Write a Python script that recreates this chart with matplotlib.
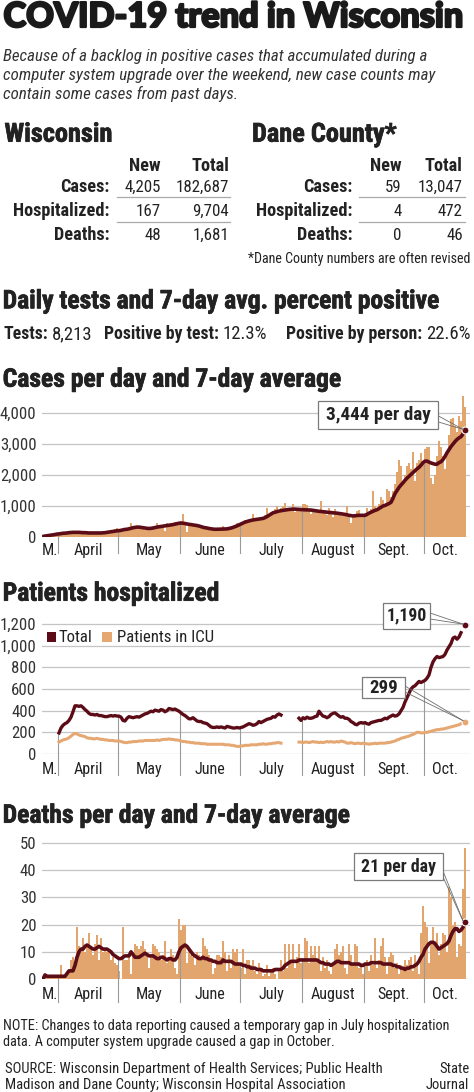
import numpy as np
import pandas as pd
import matplotlib
matplotlib.use("Agg")
import matplotlib.pyplot as plt
from matplotlib import font_manager as fm
from matplotlib.patches import Rectangle
import matplotlib.patheffects as pe

# ---------------- DATA ----------------
START, END = "2020-03-24", "2020-10-21"
HOSP_START = "2020-04-01"
MONTH_LABELS = ["M.", "April", "May", "June", "July", "August", "Sept.", "Oct."]

CASES_TICKS = [0, 1000, 2000, 3000, 4000]
CASES_TICK_LABELS = ["0", "1,000", "2,000", "3,000", "4,000"]
HOSP_TICKS = [0, 200, 400, 600, 800, 1000, 1200]
HOSP_TICK_LABELS = ["0", "200", "400", "600", "800", "1,000", "1,200"]
DEATH_TICKS = [0, 10, 20, 30, 40, 50]
DEATH_TICK_LABELS = ["0", "10", "20", "30", "40", "50"]

CASES_DAILY = [
    20, 40, 50, 60, 70, 80, 90, 110, 100, 120,
    130, 140, 110, 150, 160, 130, 170, 150, 160, 120,
    140, 150, 110, 130, 140, 120, 150, 130, 120, 140,
    150, 160, 130, 180, 190, 170, 250, 300, 180, 250,
    240, 230, 280, 300, 440, 330, 250, 350, 290, 330,
    310, 240, 260, 320, 290, 300, 350, 450, 300, 380,
    400, 200, 450, 420, 380, 460, 500, 420, 480, 520,
    730, 400, 150, 380, 450, 420, 380, 360, 330, 300,
    300, 280, 310, 260, 250, 240, 260, 280, 230, 250,
    350, 260, 240, 310, 330, 360, 380, 450, 420, 500,
    480, 550, 500, 520, 560, 750, 520, 600, 580, 620,
    550, 700, 950, 720, 800, 830, 900, 1000, 780, 930,
    1000, 1100, 850, 900, 950, 1050, 800, 880, 900, 850,
    1050, 1060, 1020, 900, 750, 850, 880, 800, 780, 1150,
    830, 800, 700, 950, 780, 650, 900, 720, 760, 800,
    680, 700, 1000, 750, 450, 650, 700, 850, 860, 700,
    740, 680, 950, 820, 900, 1500, 1000, 900, 1050, 1300,
    1200, 1000, 1550, 1500, 1300, 1500, 1700, 2100, 2500, 2300,
    1700, 2000, 2300, 2400, 2200, 2750, 1800, 2400, 2500, 2700,
    2400, 2850, 2900, 2900, 1900, 1700, 2000, 2600, 3100, 2900,
    2600, 2200, 2700, 3300, 3800, 3850, 3600, 3400, 3900, 3750,
    4550, 4205,
]
CASES_AVG = [
    20, 30, 40, 50, 60, 70, 80, 95, 100, 110,
    120, 125, 130, 140, 145, 150, 150, 150, 150, 145,
    140, 140, 135, 130, 130, 130, 128, 130, 130, 130,
    135, 140, 150, 160, 170, 180, 190, 200, 205, 215,
    230, 245, 250, 265, 280, 300, 310, 320, 320, 310,
    300, 290, 280, 275, 280, 290, 305, 320, 330, 340,
    350, 360, 370, 380, 390, 400, 415, 430, 445, 450,
    445, 435, 420, 410, 400, 390, 380, 370, 355, 335,
    315, 300, 290, 275, 265, 255, 250, 250, 252, 255,
    258, 260, 262, 275, 290, 310, 335, 360, 390, 420,
    450, 480, 500, 520, 535, 550, 560, 570, 580, 590,
    600, 625, 660, 700, 740, 780, 800, 820, 835, 850,
    860, 870, 880, 890, 895, 900, 900, 895, 890, 885,
    880, 878, 875, 872, 870, 860, 850, 840, 830, 825,
    815, 810, 800, 795, 790, 780, 775, 770, 760, 750,
    740, 730, 715, 700, 690, 680, 685, 695, 700, 700,
    700, 700, 730, 770, 800, 830, 860, 880, 920, 960,
    1000, 1020, 1050, 1080, 1120, 1250, 1400, 1500, 1600, 1680,
    1750, 1830, 1900, 1960, 2020, 2080, 2140, 2200, 2250, 2320,
    2400, 2450, 2450, 2420, 2390, 2370, 2350, 2350, 2400, 2430,
    2500, 2600, 2720, 2820, 2920, 3000, 3080, 3150, 3200, 3240,
    3330, 3444,
]
# from April 1; None = no data reported
HOSP_TOTAL = [
    195, 240, 265, 280, 290, 310, 340, 390, 445, 445,
    440, 445, 430, 410, 395, 375, 365, 365, 360, 365,
    355, 355, 350, 345, 345, 350, 355, 350, 355, 350,
    350, 340, 310, 305, 330, 345, 340, 335, 340, 345,
    340, 350, 360, 370, 375, 385, 395, 390, 405, 400,
    395, 410, 405, 390, 400, 420, 415, 410, 415, 405,
    395, 380, 365, 355, 340, 325, 325, 335, 320, 305,
    300, 300, 290, 285, 280, 265, 250, 245, 245, 250,
    245, 250, 245, 240, 255, 250, 245, 240, 240, 245,
    240, 245, 250, 260, 270, 280, 275, 265, 270, 280,
    300, 290, 300, 310, 320, 325, 330, 345, 340, 360,
    370, 360,
    None, None, None, None, None, None, None, None,
    330, 310, 335, 325, 340, 330, 330, 335, 345, 350,
    395, 370, 350, 345, 335, 345, 365, 375, 380, 365,
    350, 340, 345, 330, 330, 320, 300, 290, 275, 270,
    285, 290, 285, 290, 280, 275, 290, 295, 300, 305,
    310, 310, 320, 330, 325, 340, 350, 360, 350, 355,
    370, 400, 430, 480, 520, 560, 600, 620, 630, 650,
    670, 660, 670, 680, 700, 730, 800, 850, 880, 900,
    890, 895, 900, 920, 960, 990, 1020, 1070, 1080, 1060,
    1080, 1120, None, 1190,
]
HOSP_ICU = [
    110, 120, 130, 135, 140, 150, 165, 180, 190, 185,
    175, 170, 165, 160, 150, 145, 145, 140, 140, 145,
    140, 135, 135, 130, 130, 125, 125, 125, 120, 120,
    120, 115, 110, 105, 105, 110, 110, 115, 115, 115,
    120, 120, 120, 125, 125, 125, 125, 125, 125, 130,
    125, 130, 135, 135, 135, 140, 135, 135, 130, 130,
    125, 120, 115, 115, 110, 110, 105, 105, 100, 100,
    100, 95, 95, 95, 90, 90, 90, 90, 90, 90,
    90, 90, 90, 85, 85, 85, 80, 80, 75, 70,
    70, 75, 75, 80, 80, 80, 85, 85, 85, 85,
    90, 90, 95, 90, 90, 95, 95, 100, 100, 105,
    105, 100,
    None, None, None, None, None, None, None, None,
    110, 110, 105, 110, 110, 105, 110, 115, 110, 110,
    105, 110, 105, 110, 115, 110, 115, 110, 110, 115,
    110, 120, 115, 110, 100, 100, 105, 100, 95, 100,
    100, 95, 100, 95, 95, 90, 95, 95, 100, 95,
    100, 100, 100, 100, 105, 105, 110, 115, 120, 130,
    135, 145, 150, 155, 160, 165, 175, 180, 190, 200,
    200, 195, 195, 200, 200, 205, 210, 215, 220, 225,
    225, 230, 230, 235, 240, 245, 250, 255, 260, 265,
    270, 280, None, 299,
]
DEATHS_DAILY = [
    0, 2, 1, 1, 1, 1, 1, 1, 1, 5,
    1, 2, 3, 3, 7, 8, 6, 19, 12, 10,
    15, 10, 13, 17, 12, 9, 13, 16, 7, 15,
    10, 11, 10, 10, 7, 8, 6, 5, 3, 0,
    19, 7, 7, 8, 2, 8, 13, 12, 11, 12,
    14, 11, 9, 4, 9, 13, 12, 11, 10, 7,
    9, 14, 6, 8, 11, 9, 4, 2, 22, 18,
    20, 20, 6, 11, 9, 8, 5, 10, 9, 8,
    15, 12, 11, 9, 7, 2, 4, 9, 9, 8,
    14, 10, 3, 9, 4, 11, 10, 11, 5, 4,
    11, 2, 7, 7, 5, 7, 3, 2, 6, 3,
    1, 2, 5, 1, 3, 4, 2, 0, 3, 7,
    3, 13, 4, 13, 6, 13, 4, 8, 13, 6,
    7, 15, 14, 6, 12, 9, 12, 7, 12, 3,
    8, 4, 7, 3, 2, 5, 11, 13, 9, 10,
    12, 4, 2, 13, 9, 6, 13, 12, 4, 6,
    2, 5, 7, 3, 9, 5, 15, 4, 7, 12,
    15, 8, 2, 8, 10, 9, 4, 6, 2, 5,
    4, 7, 5, 7, 8, 3, 9, 6, 2, 17,
    27, 21, 19, 6, 14, 19, 14, 17, 9, 13,
    17, 16, 10, 34, 30, 20, 21, 8, 13, 12,
    33, 48,
]
DEATHS_AVG = [
    0, 1.5, 1, 1, 1, 1, 1, 1, 1, 1,
    1, 1, 2, 3, 3, 3, 5, 8, 10, 11,
    11, 12, 12.5, 12, 11.5, 11, 11, 11.5, 12, 11.5,
    11, 11, 11, 10.5, 10, 9, 8.5, 8, 7.5, 7.5,
    8, 8.5, 8.5, 8.5, 10, 9, 8, 8, 8, 8.5,
    9, 9.5, 9, 8.5, 8.5, 8.5, 8, 7.5, 7.5, 8,
    8, 7.5, 7, 7.5, 7.5, 7, 7, 8, 10, 11.5,
    12, 12.5, 12, 11, 10, 9, 8.5, 8, 7.5, 7.5,
    8, 7.5, 7.5, 7, 7, 6.5, 6.5, 6, 6, 6,
    7, 6.5, 6.5, 6.5, 6.5, 6, 5.5, 5.5, 5.5, 5.5,
    5, 5, 4.5, 4.5, 4, 4, 4, 3.5, 3.5, 3.5,
    3, 3, 3, 3, 3, 3, 3.5, 3.5, 3.5, 3.5,
    4, 5, 5.5, 6, 6.5, 6.5, 6.5, 6.5, 7, 7,
    7, 7, 7, 7, 7, 7, 7, 7, 6.5, 6,
    6, 5.5, 5.5, 5.5, 5, 5.5, 6, 6.5, 6.5, 6,
    6, 6, 6, 6, 5.5, 5.5, 5.5, 5.5, 5.5, 5,
    5, 5.5, 5.5, 5.5, 6, 6, 6, 6, 6, 6,
    5.5, 5.5, 5.5, 5.5, 5.5, 5, 5, 4.5, 4.5, 4,
    4, 3.5, 4, 4, 4.5, 4.5, 5, 5.5, 6.5, 8,
    9, 11, 12, 13, 13.5, 13.5, 13, 12, 11, 11.5,
    12, 12.5, 13, 14, 16, 17.5, 18.5, 18.5, 17.5, 18,
    19, 21,
]

WI_ROWS = ["Cases:", "Hospitalized:", "Deaths:"]
WI_NEW = ["4,205", "167", "48"]
WI_TOTAL = ["182,687", "9,704", "1,681"]
DANE_NEW = ["59", "4", "0"]
DANE_TOTAL = ["13,047", "472", "46"]
TEST_ITEMS = [("Tests:", "8,213"), ("Positive by test:", "12.3%"), ("Positive by person:", "22.6%")]

CASES_CALLOUT = "3,444 per day"
HOSP_CALLOUT = "1,190"
ICU_CALLOUT = "299"
DEATHS_CALLOUT = "21 per day"

# ---------------- STYLE ----------------
W, H = 474, 1092
MAROON = "#5C0C17"
ORANGE = "#E2A56E"
ICU_C = "#E6A872"
GRID = "#C4C4C4"
DIV = "#9A9A9A"
TXT = "#222222"


def first_font(cands):
    for c in cands:
        try:
            fm.findfont(fm.FontProperties(family=c), fallback_to_default=False)
            return c
        except Exception:
            pass
    return "DejaVu Sans"


NARROW = first_font(["Liberation Sans Narrow", "Roboto Condensed", "Lato", "Roboto"])
HEAVY = first_font(["Lato", "Roboto", "DejaVu Sans"])
plt.rcParams["font.family"] = [NARROW, "DejaVu Sans"]

dates = pd.date_range(START, END, freq="D")
N = len(dates)
x = np.arange(N)
hosp_x = np.arange(len(HOSP_TOTAL)) + dates.get_loc(pd.Timestamp(HOSP_START))
hosp_tot = np.array([np.nan if v is None else v for v in HOSP_TOTAL], float)
hosp_icu = np.array([np.nan if v is None else v for v in HOSP_ICU], float)
bounds = [0] + [i for i in range(1, N) if dates[i].month != dates[i - 1].month] + [N]

fig = plt.figure(figsize=(W / 100, H / 100), dpi=100)
fig.patch.set_facecolor("white")
ov = fig.add_axes([0, 0, 1, 1])
ov.set_xlim(0, W)
ov.set_ylim(H, 0)
ov.axis("off")
ov.set_zorder(10)
renderer = fig.canvas.get_renderer()

HEAVY_FX = [pe.withStroke(linewidth=1.6, foreground="#1a1a1a")]
HEAD_FX = [pe.withStroke(linewidth=0.5, foreground=TXT)]


def size_for(s, width, **kw):
    t = ov.text(0, 0, s, fontsize=12, **kw)
    w = t.get_window_extent(renderer).width
    t.remove()
    return 12 * width / w


def text_w(t):
    return t.get_window_extent(renderer).width


def fit(xp, yp, s, width, ha="left", **kw):
    fs = size_for(s, width, **kw)
    return ov.text(xp, yp, s, fontsize=fs, ha=ha, va="baseline", **kw)


# ---------------- HEADER TEXT ----------------
fit(3.5, 27, "COVID-19 trend in Wisconsin", 460, family=HEAVY, weight="black",
    color="#1a1a1a", path_effects=HEAVY_FX)

sub = ["Because of a backlog in positive cases that accumulated during a",
       "computer system upgrade over the weekend, new case counts may",
       "contain some cases from past days."]
fs_sub = size_for(sub[1], 429, style="italic")
for s, yb in zip(sub, [61.5, 80.2, 98.9]):
    ov.text(2.7, yb, s, fontsize=fs_sub, style="italic", color="#333333", va="baseline")

fs_h2 = size_for("Dane County*", 144, weight="bold")
ov.text(4.5, 141.7, "Wisconsin", fontsize=fs_h2, weight="bold", color=TXT, va="baseline",
        path_effects=HEAD_FX)
ov.text(252, 141.7, "Dane County*", fontsize=fs_h2, weight="bold", color=TXT, va="baseline",
        path_effects=HEAD_FX)

fs_lab = size_for("Hospitalized:", 96.7, weight="bold")
fs_val = size_for("182,687", 53, weight="normal")
row_y = [192.3, 216.0, 240.0]
for (lab_r, new_r, tot_r, new_vals, tot_vals, l0, l1) in [
        (109.3, 160.7, 229.0, WI_NEW, WI_TOTAL, 116.7, 230.0),
        (352.7, 401.7, 462.7, DANE_NEW, DANE_TOTAL, 359.3, 465.0)]:
    ov.text(new_r, 170.7, "New", fontsize=fs_lab, weight="bold", ha="right", va="baseline", color=TXT)
    ov.text(tot_r, 170.7, "Total", fontsize=fs_lab, weight="bold", ha="right", va="baseline", color=TXT)
    for lab, nv, tv, yb in zip(WI_ROWS, new_vals, tot_vals, row_y):
        ov.text(lab_r, yb, lab, fontsize=fs_lab, weight="bold", ha="right", va="baseline", color=TXT)
        ov.text(new_r, yb, nv, fontsize=fs_val, ha="right", va="baseline", color=TXT)
        ov.text(tot_r, yb, tv, fontsize=fs_val, ha="right", va="baseline", color=TXT)
    for ly in (197.3, 221.7):
        ov.plot([l0, l1], [ly, ly], color="#AAAAAA", lw=0.9)

fit(470, 262.7, "*Dane County numbers are often revised", 223.3, ha="right", color=TXT)

fs_sec = size_for("Cases per day and 7-day average", 339, weight="bold")
ov.text(2.7, 308.3, "Daily tests and 7-day avg. percent positive", fontsize=fs_sec,
        weight="bold", va="baseline", color=TXT, path_effects=HEAD_FX)

fs_tl = size_for("Positive by person:", 136.7, weight="bold")
fs_tv = size_for("22.6%", 44)
for (lab, val), xl in zip(TEST_ITEMS, [3.3, 104, 286]):
    t = ov.text(xl, 339.3, lab, fontsize=fs_tl, weight="bold", va="baseline", color=TXT)
    ov.text(xl + text_w(t) + 4, 339.3, val, fontsize=fs_tv, va="baseline", color=TXT)

for s, yb in [("Cases per day and 7-day average", 386.7),
              ("Patients hospitalized", 600.7),
              ("Deaths per day and 7-day average", 822.7)]:
    ov.text(2.7, yb, s, fontsize=fs_sec, weight="bold", va="baseline", color=TXT,
            path_effects=HEAD_FX)

# ---------------- CHARTS ----------------
AX_L, AX_R = 42, 470
fs_tick = size_for("4,000", 36)
fs_month = size_for("August", 44.7)


def chart(top_px, bottom_px, ymax, ticks, labels):
    ax = fig.add_axes([AX_L / W, 1 - bottom_px / H, (AX_R - AX_L) / W, (bottom_px - top_px) / H])
    ax.set_xlim(-0.5, N + 1.5)
    ax.set_ylim(0, ymax)
    for s in ax.spines.values():
        s.set_visible(False)
    ax.set_xticks([])
    ax.set_yticks(ticks)
    ax.set_yticklabels(labels)
    ax.yaxis.grid(True, color=GRID, lw=0.9)
    ax.set_axisbelow(True)
    ax.tick_params(axis="y", length=0, pad=4, labelsize=fs_tick, labelcolor="#333333")
    ax.patch.set_alpha(0)
    return ax


def months(ax, tops, label_off, div_off):
    ppu = ax.bbox.height / ax.get_ylim()[1]
    for k, lab in enumerate(MONTH_LABELS):
        s, e = bounds[k], bounds[k + 1]
        ax.annotate(lab, xy=((s + e - 1) / 2, 0), xytext=(0, -label_off),
                    textcoords="offset pixels", ha="center", va="baseline",
                    fontsize=fs_month, color=TXT, annotation_clip=False)
        if k > 0:
            ax.plot([s - 0.5, s - 0.5], [tops[s], -div_off / ppu], color=DIV, lw=0.8,
                    clip_on=False, zorder=2.5)


def to_px(ax, xv, yv):
    dx, dy = ax.transData.transform((xv, yv))
    return dx, H - dy


def callout(box, text, tw, ys, target, base):
    x0, y0, x1, y1 = box
    ov.add_patch(Rectangle((x0, y0), x1 - x0, y1 - y0, facecolor="white",
                           edgecolor="#7A7A7A", lw=0.9, zorder=3))
    fs = size_for(text, tw, weight="bold")
    ov.text((x0 + x1) / 2, base, text, fontsize=fs, weight="bold", ha="center",
            va="baseline", color=TXT, zorder=4)
    tx, ty = target
    for yy in ys:
        ov.plot([x1, tx - 2], [yy, ty - 1], color="#6E6E6E", lw=0.6, zorder=2)


# Cases
axc = chart(393, 537, 4650, CASES_TICKS, CASES_TICK_LABELS)
axc.bar(x, CASES_DAILY, width=0.88, color=ORANGE, lw=0, zorder=2)
axc.plot(x, CASES_AVG, color=MAROON, lw=2.6, solid_capstyle="round", zorder=3)
axc.plot(x[-1], CASES_AVG[-1], "o", ms=5, color=MAROON, mec="white", mew=0.8, clip_on=False, zorder=4)
months(axc, CASES_AVG, 18, 16)
callout((318, 401, 438.5, 429), CASES_CALLOUT, 105, (416, 422),
        to_px(axc, x[-1], CASES_AVG[-1]), 420)

# Hospitalized
axh = chart(619.7, 754, 1240, HOSP_TICKS, HOSP_TICK_LABELS)
axh.plot(hosp_x, hosp_icu, color=ICU_C, lw=2.2, zorder=3)
axh.plot(hosp_x, hosp_tot, color=MAROON, lw=2.4, zorder=3)
axh.plot(hosp_x[-1], hosp_tot[-1], "o", ms=5, color=MAROON, mec="white", mew=0.8, clip_on=False, zorder=4)
axh.plot(hosp_x[-1], hosp_icu[-1], "o", ms=5, color=ICU_C, mec="white", mew=0.8, clip_on=False, zorder=4)
hosp_tops = np.full(N, 0.0)
hosp_tops[hosp_x] = np.where(np.isnan(hosp_tot), np.nan_to_num(hosp_icu), hosp_tot)
months(axh, hosp_tops, 20, 21)
callout((383, 603, 430, 629), HOSP_CALLOUT, 40, (613, 619),
        to_px(axh, hosp_x[-1], hosp_tot[-1]), 620)
callout((362, 677, 405, 698), ICU_CALLOUT, 28.3, (686, 692),
        to_px(axh, hosp_x[-1], hosp_icu[-1]), 693.3)

# legend
fs_leg = size_for("Patients in ICU", 96.7)
ov.add_patch(Rectangle((46.7, 631.7), 9.5, 10, facecolor=MAROON, edgecolor="none"))
ov.text(58.3, 641.7, "Total", fontsize=fs_leg, va="baseline", color=TXT)
ov.add_patch(Rectangle((101.7, 631.7), 10, 10, facecolor=ICU_C, edgecolor="none"))
ov.text(116.7, 641.7, "Patients in ICU", fontsize=fs_leg, va="baseline", color=TXT)

# Deaths
axd = chart(840.3, 979, 51, DEATH_TICKS, DEATH_TICK_LABELS)
axd.bar(x, DEATHS_DAILY, width=0.88, color=ORANGE, lw=0, zorder=2)
axd.plot(x, DEATHS_AVG, color=MAROON, lw=2.6, solid_capstyle="round", zorder=3)
axd.plot(x[-1], DEATHS_AVG[-1], "o", ms=5, color=MAROON, mec="white", mew=0.8, clip_on=False, zorder=4)
months(axd, DEATHS_AVG, 20, 23)
callout((354, 853, 443, 880), DEATHS_CALLOUT, 75, (871, 877),
        to_px(axd, x[-1], DEATHS_AVG[-1]), 871.7)

# ---------------- FOOTER ----------------
note = ["NOTE: Changes to data reporting caused a temporary gap in July hospitalization",
        "data. A computer system upgrade caused a gap in October."]
fs_note = size_for(note[0], 449.3)
for s, yb in zip(note, [1030, 1046]):
    ov.text(3.3, yb, s, fontsize=fs_note, va="baseline", color=TXT)
src = ["SOURCE: Wisconsin Department of Health Services; Public Health",
       "Madison and Dane County; Wisconsin Hospital Association"]
fs_src = size_for(src[0], 376)
for s, yb in zip(src, [1072.7, 1089]):
    ov.text(5, yb, s, fontsize=fs_src, va="baseline", color=TXT)
ov.text(469.5, 1072.7, "State", fontsize=fs_src, ha="right", va="baseline", color=TXT)
ov.text(469.5, 1089, "Journal", fontsize=fs_src, ha="right", va="baseline", color=TXT)

fig.savefig("out.png", dpi=100, facecolor="white")
